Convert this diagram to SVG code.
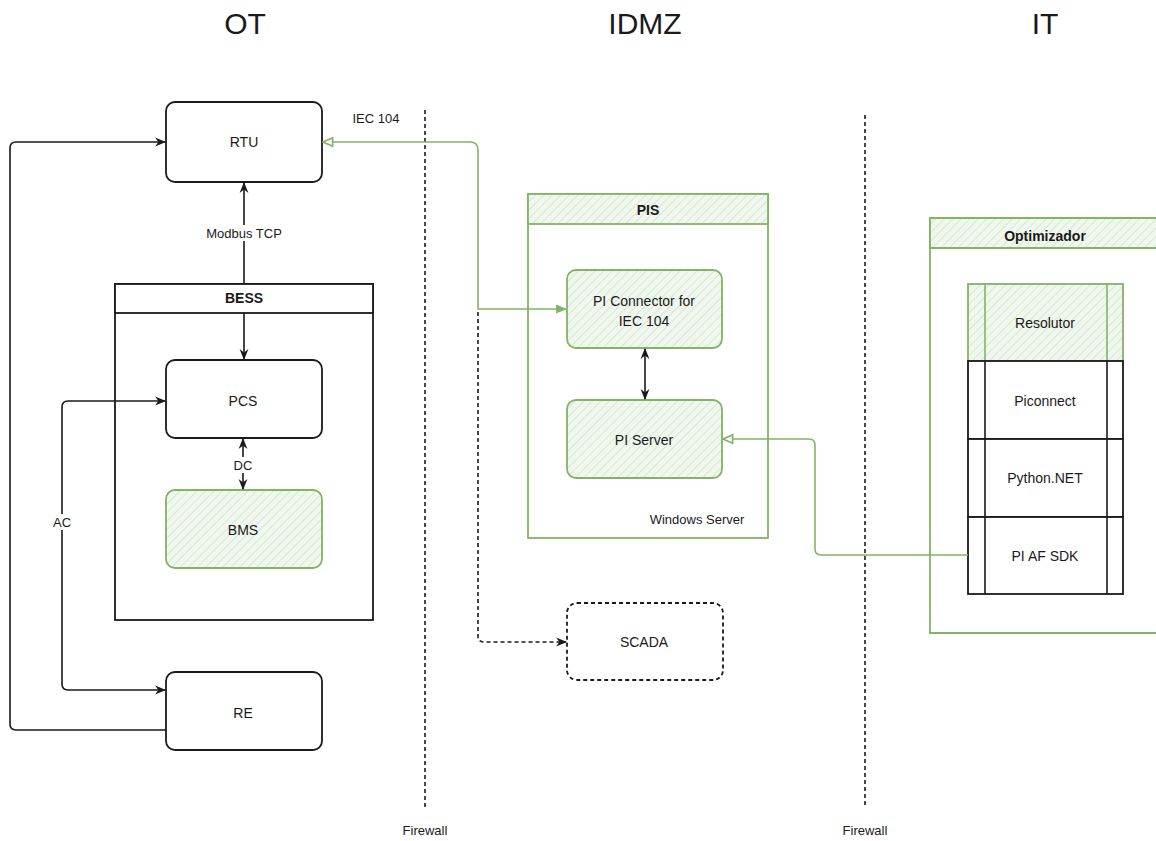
<svg xmlns="http://www.w3.org/2000/svg" width="1156" height="841" viewBox="0 0 1156 841">
<style>
text{font-family:"Liberation Sans","DejaVu Sans",sans-serif;fill:#1a1a1a;text-anchor:middle;dominant-baseline:central}
.t{font-size:14px}
.b{font-size:14px;font-weight:bold}
.h{font-size:30px}
.s{font-size:13px}
.box{fill:#fff;stroke:#1a1a1a;stroke-width:1.8}
.gbox{fill:url(#hatch);stroke:#82b366;stroke-width:1.8}
.gline{fill:none;stroke:#82b366;stroke-width:1.6}
.kline{fill:none;stroke:#1a1a1a;stroke-width:1.6}
.fw{stroke:#1a1a1a;stroke-width:1.6;stroke-dasharray:4 3}
</style>
<defs>
<pattern id="hatch" width="6" height="6" patternUnits="userSpaceOnUse" patternTransform="rotate(45)">
<rect width="6" height="6" fill="#f0f7ee"/>
<line x1="0" y1="0" x2="0" y2="6" stroke="#c5e0bd" stroke-width="1.2"/>
</pattern>
<marker id="ak" viewBox="0 0 10 10" refX="9" refY="5" markerWidth="11" markerHeight="11" orient="auto-start-reverse" markerUnits="userSpaceOnUse">
<path d="M0,1 L10,5 L0,9 L3,5 Z" fill="#1a1a1a"/>
</marker>
<marker id="ag" viewBox="0 0 10 10" refX="9" refY="5" markerWidth="11" markerHeight="11" orient="auto-start-reverse" markerUnits="userSpaceOnUse">
<path d="M0,1 L10,5 L0,9 Z" fill="#82b366"/>
</marker>
<marker id="ago" viewBox="0 0 10 10" refX="9" refY="5" markerWidth="12" markerHeight="12" orient="auto-start-reverse" markerUnits="userSpaceOnUse">
<path d="M1,1.5 L9,5 L1,8.5 Z" fill="#fff" stroke="#82b366" stroke-width="1.4"/>
</marker>
</defs>

<g id="titles">
<text class="h" x="245" y="23">OT</text>
<text class="h" x="645" y="23">IDMZ</text>
<text class="h" x="1045" y="23">IT</text>
</g>

<g id="firewalls">
<line class="fw" x1="425" y1="110" x2="425" y2="808"/>
<line class="fw" x1="865" y1="115" x2="865" y2="808"/>
<text class="s" x="425" y="830">Firewall</text>
<text class="s" x="865" y="830">Firewall</text>
</g>

<g id="BESS">
<rect x="115" y="284" width="258" height="336" fill="none" stroke="#1a1a1a" stroke-width="1.8"/>
<rect x="115" y="284" width="258" height="29" class="box"/>
<text class="b" x="244" y="298">BESS</text>
</g>

<g id="PIS">
<rect x="528" y="194" width="240" height="344" fill="none" stroke="#82b366" stroke-width="1.8"/>
<rect x="528" y="194" width="240" height="30" class="gbox"/>
<text class="b" x="648" y="210">PIS</text>
<text class="s" x="697" y="519">Windows Server</text>
</g>

<g id="Optimizador">
<path d="M1160,218 L930,218 L930,633 L1160,633" fill="none" stroke="#82b366" stroke-width="1.8"/>
<path d="M1160,218 L930,218 L930,248 L1160,248 Z" class="gbox"/>
<text class="b" x="1045" y="236">Optimizador</text>
</g>

<g id="RTU">
<rect x="166" y="102" width="156" height="80" rx="9" class="box"/>
<text class="t" x="244" y="142">RTU</text>
</g>

<g id="PCS">
<rect x="166" y="360" width="156" height="78" rx="9" class="box"/>
<text class="t" x="243" y="401">PCS</text>
</g>

<g id="BMS">
<rect x="166" y="490" width="156" height="78" rx="9" class="gbox"/>
<text class="t" x="243" y="530">BMS</text>
</g>

<g id="RE">
<rect x="166" y="672" width="156" height="78" rx="9" class="box"/>
<text class="t" x="243" y="713">RE</text>
</g>

<g id="PIConnector">
<rect x="567" y="270" width="155" height="78" rx="9" class="gbox"/>
<text class="t" x="644" y="301">PI Connector for</text>
<text class="t" x="644" y="321">IEC 104</text>
</g>

<g id="PIServer">
<rect x="567" y="400" width="155" height="78" rx="9" class="gbox"/>
<text class="t" x="644" y="440">PI Server</text>
</g>

<g id="SCADA">
<rect x="567" y="603" width="156" height="77" rx="10" fill="#fff" stroke="#1a1a1a" stroke-width="1.8" stroke-dasharray="4 3"/>
<text class="t" x="644" y="642">SCADA</text>
</g>

<g id="Resolutor">
<rect x="968" y="284" width="155" height="77" class="gbox"/>
<line x1="985" y1="284" x2="985" y2="361" stroke="#82b366" stroke-width="1.6"/>
<line x1="1107" y1="284" x2="1107" y2="361" stroke="#82b366" stroke-width="1.6"/>
<text class="t" x="1045" y="323">Resolutor</text>
</g>

<g id="Piconnect">
<rect x="968" y="361" width="155" height="78" class="box"/>
<line x1="985" y1="361" x2="985" y2="439" stroke="#1a1a1a" stroke-width="1.6"/>
<line x1="1107" y1="361" x2="1107" y2="439" stroke="#1a1a1a" stroke-width="1.6"/>
<text class="t" x="1045" y="401">Piconnect</text>
</g>

<g id="PythonNET">
<rect x="968" y="439" width="155" height="78" class="box"/>
<line x1="985" y1="439" x2="985" y2="517" stroke="#1a1a1a" stroke-width="1.6"/>
<line x1="1107" y1="439" x2="1107" y2="517" stroke="#1a1a1a" stroke-width="1.6"/>
<text class="t" x="1045" y="478">Python.NET</text>
</g>

<g id="PIAFSDK">
<rect x="968" y="517" width="155" height="77" class="box"/>
<line x1="985" y1="517" x2="985" y2="594" stroke="#1a1a1a" stroke-width="1.6"/>
<line x1="1107" y1="517" x2="1107" y2="594" stroke="#1a1a1a" stroke-width="1.6"/>
<text class="t" x="1045" y="556">PI AF SDK</text>
</g>

<g id="connectors">
<path class="kline" d="M166,730 L16,730 Q10,730 10,724 L10,148 Q10,142 16,142 L165,142" marker-end="url(#ak)"/>
<line class="kline" x1="244" y1="284" x2="244" y2="183" marker-end="url(#ak)"/>
<line class="kline" x1="244" y1="313" x2="244" y2="359" marker-end="url(#ak)"/>
<line class="kline" x1="243" y1="439" x2="243" y2="489" marker-start="url(#ak)" marker-end="url(#ak)"/>
<path class="kline" d="M165,401 L68,401 Q62,401 62,407 L62,684 Q62,690 68,690 L165,690" marker-start="url(#ak)" marker-end="url(#ak)"/>
<path class="gline" d="M566,309 L478,309 L478,150 Q478,142 470,142 L323,142" marker-start="url(#ag)" marker-end="url(#ago)"/>
<path class="kline" stroke-dasharray="4 3" d="M478,312 L478,636 Q478,642 484,642 L566,642" marker-end="url(#ak)"/>
<line class="kline" x1="645" y1="349" x2="645" y2="399" marker-start="url(#ak)" marker-end="url(#ak)"/>
<path class="gline" d="M968,555 L821,555 Q815,555 815,549 L815,445 Q815,439 809,439 L723,439" marker-end="url(#ago)"/>
<rect x="202" y="225" width="84" height="16" fill="#fff"/>
<text class="s" x="244" y="233">Modbus TCP</text>
<rect x="234" y="457" width="18" height="16" fill="#fff"/>
<text class="s" x="243" y="465">DC</text>
<rect x="52" y="514" width="20" height="16" fill="#fff"/>
<text class="s" x="62" y="522">AC</text>
<text class="s" x="376" y="118">IEC 104</text>
</g>
</svg>
